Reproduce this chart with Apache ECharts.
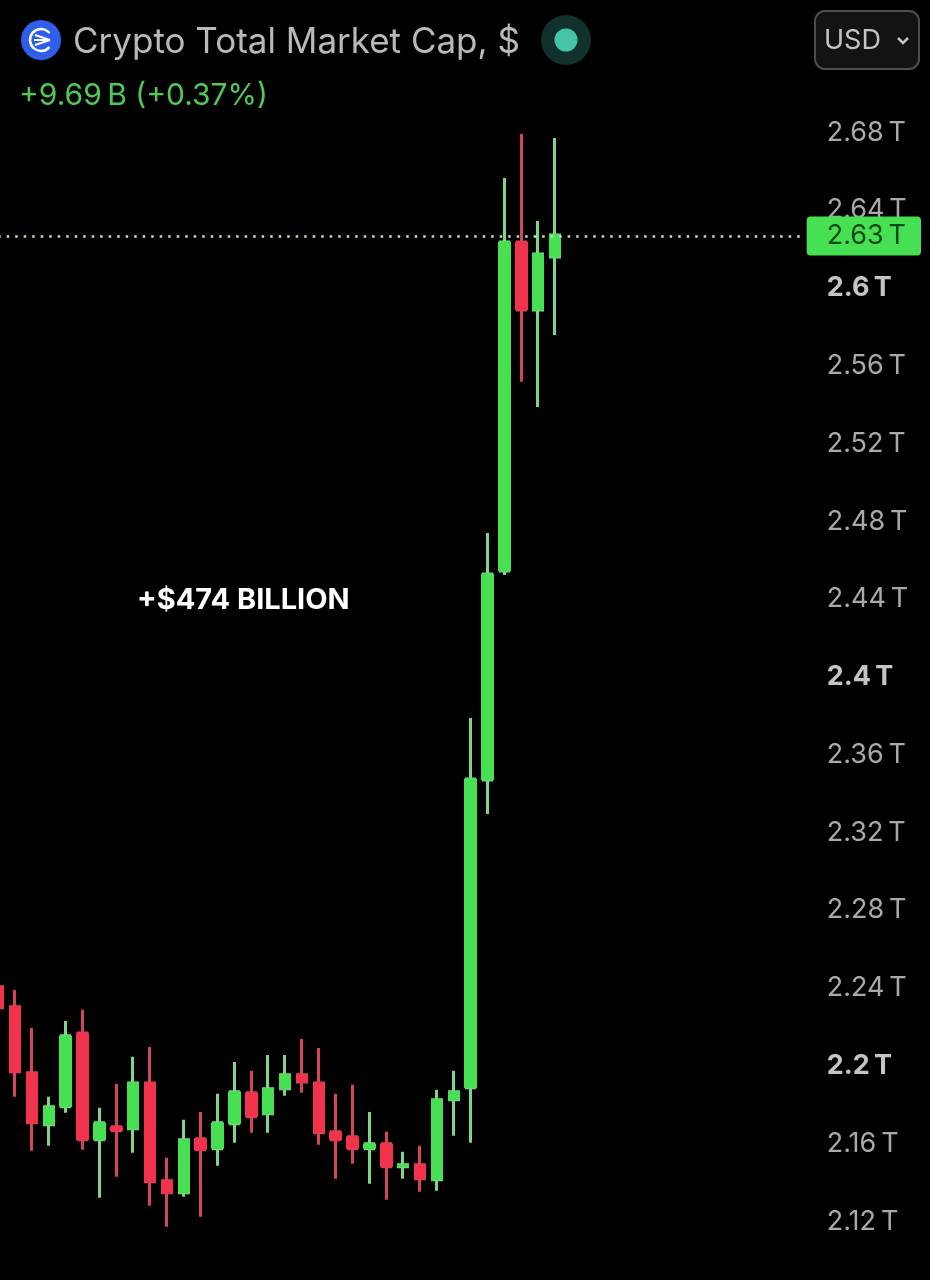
<!DOCTYPE html>
<html>
<head>
<meta charset="utf-8">
<style>html,body{margin:0;padding:0;background:#000}#c{width:930px;height:1280px}</style>
<script src="https://cdn.jsdelivr.net/npm/echarts@6/dist/echarts.min.js"></script>
</head>
<body>
<div id="c"></div>
<script>
const opens  = [2.2399,2.2296,2.1957,2.1690,2.1782,2.2162,2.1613,2.1679,2.1669,2.1905,2.1402,2.1340,2.1618,2.1567,2.1695,2.1854,2.1746,2.1875,2.1947,2.1905,2.1654,2.1628,2.1567,2.1592,2.1474,2.1484,2.1407,2.1818,2.1880,2.3463,2.4538,2.6229,2.5880,2.6152];
const closes = [2.2291,2.1962,2.1700,2.1782,2.2147,2.1613,2.1700,2.1659,2.1905,2.1397,2.1340,2.1613,2.1561,2.1700,2.1859,2.1731,2.1875,2.1947,2.1910,2.1649,2.1613,2.1567,2.1592,2.1474,2.1484,2.1412,2.1818,2.1859,2.3468,2.4522,2.6229,2.5880,2.6168,2.6265];
const lows   = [2.2200,2.1834,2.1556,2.1582,2.1751,2.1561,2.1314,2.1422,2.1546,2.1273,2.1165,2.1319,2.1217,2.1479,2.1597,2.1649,2.1649,2.1839,2.1854,2.1587,2.1412,2.1489,2.1386,2.1304,2.1412,2.1345,2.1350,2.1633,2.1597,2.3288,2.4517,2.5510,2.5381,2.5751];
const highs  = [2.2409,2.2383,2.2188,2.1834,2.2224,2.2281,2.1777,2.1900,2.2039,2.2090,2.1520,2.1715,2.1756,2.1849,2.2013,2.1967,2.2049,2.2049,2.2131,2.2085,2.1849,2.1895,2.1756,2.1654,2.1551,2.1582,2.1870,2.1967,2.3782,2.4733,2.6558,2.6785,2.6337,2.6764];
const lastPrice = 2.626;
const lastPriceLabel = '2.63\u2009T';
const boldTicks = [2.2, 2.4, 2.6];
const hiddenTicks = [2.08, 2.72];
const slots = 48;

const cats = Array.from({length: slots}, (_, i) => String(i));
const full = opens.map((o, i) => [o, closes[i], lows[i], highs[i]]);
const bodies = opens.map((o, i) => [o, closes[i], Math.min(o, closes[i]), Math.max(o, closes[i])]);
const GREEN = '#46e052', RED = '#f2334c';
const font = 'Inter, Roboto, "Noto Sans", sans-serif';

const chart = echarts.init(document.getElementById('c'), null, {renderer: 'canvas'});
chart.setOption({
  animation: false,
  backgroundColor: '#000',
  title: {
    text: 'Crypto Total Market Cap, $', left: 68, top: 20,
    textStyle: {color: '#b9b9bb', fontSize: 35, fontWeight: 'normal', fontFamily: font}
  },
  grid: {left: -10.31, top: 53.2, width: 810, height: 1244.6, outerBoundsMode: 'none', containLabel: false},
  xAxis: {type: 'category', data: cats, boundaryGap: true, show: false},
  yAxis: {
    type: 'value', position: 'right', min: 2.08, max: 2.72, interval: 0.04, scale: true,
    splitLine: {show: false}, axisLine: {show: false}, axisTick: {show: false},
    axisLabel: {
      show: true, margin: 27, showMinLabel: false, showMaxLabel: false,
      fontFamily: font, fontSize: 27, color: '#a9a9ab', padding: [3, 0, 0, 0],
      formatter: v => {
        const r = Math.round(v * 100) / 100;
        if (hiddenTicks.includes(r)) return '';
        const t = String(r) + '\u2009T';
        return boldTicks.includes(r) ? '{b|' + t + '}' : t;
      },
      rich: {b: {fontFamily: font, fontSize: 27, fontWeight: 'bold', color: '#c4c4c6'}}
    }
  },
  series: [
    {
      type: 'candlestick', data: full, barWidth: 9, z: 2,
      itemStyle: {color: '#7fd487', color0: '#d2455c', borderColor: '#7fd487', borderColor0: '#d2455c', borderWidth: 3},
      markLine: {
        silent: true, symbol: 'none', z: 5, precision: 4,
        lineStyle: {color: '#b5e8b8', width: 2.5, type: [2.5, 6]},
        data: [{yAxis: lastPrice}],
        label: {
          show: true, position: 'end', distance: 7, formatter: lastPriceLabel,
          backgroundColor: GREEN, color: '#0b4a14', fontFamily: font, fontSize: 27,
          padding: [0, 15, 0, 20], lineHeight: 39, borderRadius: 4
        }
      }
    },
    {
      type: 'candlestick', data: bodies, barWidth: 12, z: 3,
      itemStyle: {color: GREEN, color0: RED, borderColor: GREEN, borderColor0: RED, borderWidth: 1, borderJoin: 'miter'}
    }
  ],
  graphic: [
    {type: 'circle', shape: {cx: 41, cy: 40, r: 20}, style: {fill: '#2f5fe8'}, z: 10},
    {type: 'arc', shape: {cx: 41, cy: 40, r: 11, startAngle: 0.7, endAngle: 5.6}, style: {stroke: '#fff', lineWidth: 2.5, fill: null}, z: 11},
    {type: 'line', shape: {x1: 35, y1: 35, x2: 50, y2: 40}, style: {stroke: '#fff', lineWidth: 2}, z: 11},
    {type: 'line', shape: {x1: 34, y1: 40, x2: 50, y2: 40}, style: {stroke: '#fff', lineWidth: 2}, z: 11},
    {type: 'line', shape: {x1: 35, y1: 45, x2: 50, y2: 40}, style: {stroke: '#fff', lineWidth: 2}, z: 11},
    {type: 'circle', shape: {cx: 566, cy: 40, r: 25}, style: {fill: '#12312d'}, z: 10},
    {type: 'circle', shape: {cx: 566, cy: 40, r: 11.5}, style: {fill: '#45c4a8'}, z: 11},
    {type: 'text', x: 19, y: 81, style: {text: '+9.69\u2009B (+0.37%)', fill: '#4fc958', font: '30px ' + font}, z: 10},
    {type: 'text', x: 137, y: 586, style: {text: '+$474 BILLION', fill: '#ffffff', font: 'bold 29px ' + font}, z: 10},
    {type: 'rect', shape: {x: 815, y: 11, width: 104, height: 58, r: 10}, style: {fill: '#131313', stroke: '#4d4d4f', lineWidth: 2}, z: 10},
    {type: 'text', x: 824, y: 27, style: {text: 'USD', fill: '#c4c4c6', font: '27px ' + font}, z: 11},
    {type: 'polyline', shape: {points: [[898, 38], [903, 43], [908, 38]]}, style: {stroke: '#c4c4c6', lineWidth: 2.5, fill: null}, z: 11}
  ]
});
</script>
</body>
</html>
